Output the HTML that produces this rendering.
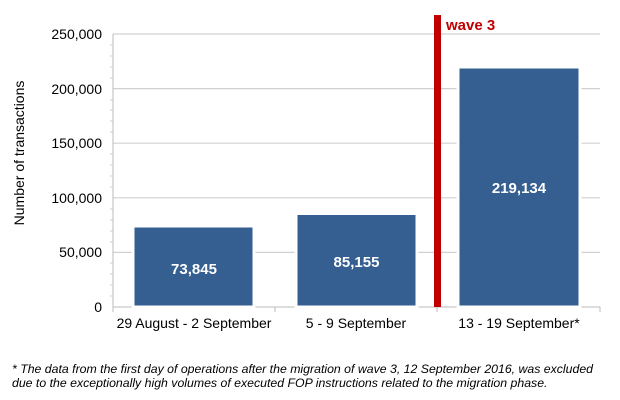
<!DOCTYPE html>
<html><head><meta charset="utf-8"><style>
body{margin:0;background:#fff;}
svg{display:block;font-family:"Liberation Sans",Arial,sans-serif;}
</style></head><body>
<svg width="620" height="400" viewBox="0 0 620 400">
<g stroke="#d0d0d0" stroke-width="1.2">
<line x1="113" y1="34" x2="600" y2="34"/>
<line x1="113" y1="88.6" x2="600" y2="88.6"/>
<line x1="113" y1="143.2" x2="600" y2="143.2"/>
<line x1="113" y1="197.8" x2="600" y2="197.8"/>
<line x1="113" y1="252.4" x2="600" y2="252.4"/>
</g>
<g stroke="#bbb" stroke-width="1">
<line x1="113" y1="34" x2="113" y2="307"/>
<line x1="113" y1="307" x2="600" y2="307"/>
<line x1="113" y1="307" x2="113" y2="312"/>
<line x1="275" y1="307" x2="275" y2="312"/>
<line x1="437" y1="307" x2="437" y2="312"/>
<line x1="600" y1="307" x2="600" y2="312"/>
</g>
<g stroke="#ccc" stroke-width="1">
<line x1="110" y1="45" x2="113" y2="45"/><line x1="110" y1="56" x2="113" y2="56"/><line x1="110" y1="67" x2="113" y2="67"/><line x1="110" y1="78" x2="113" y2="78"/>
<line x1="110" y1="100" x2="113" y2="100"/><line x1="110" y1="110" x2="113" y2="110"/><line x1="110" y1="121" x2="113" y2="121"/><line x1="110" y1="132" x2="113" y2="132"/>
<line x1="110" y1="154" x2="113" y2="154"/><line x1="110" y1="165" x2="113" y2="165"/><line x1="110" y1="176" x2="113" y2="176"/><line x1="110" y1="187" x2="113" y2="187"/>
<line x1="110" y1="209" x2="113" y2="209"/><line x1="110" y1="220" x2="113" y2="220"/><line x1="110" y1="231" x2="113" y2="231"/><line x1="110" y1="242" x2="113" y2="242"/>
<line x1="110" y1="263" x2="113" y2="263"/><line x1="110" y1="274" x2="113" y2="274"/><line x1="110" y1="285" x2="113" y2="285"/><line x1="110" y1="296" x2="113" y2="296"/>
</g>
<g fill="#365f91" stroke="#fff" stroke-width="3">
<rect x="133" y="226" width="121" height="81"/>
<rect x="296" y="213.5" width="121" height="93.5"/>
<rect x="458" y="67" width="122" height="240"/>
</g>
<rect x="434" y="15" width="7" height="292" fill="#c00000"/>
<text x="446" y="30" font-size="15" font-weight="bold" fill="#c00000">wave 3</text>
<g font-size="15" font-weight="bold" fill="#fff" text-anchor="middle">
<text x="194" y="274">73,845</text>
<text x="356.5" y="267">85,155</text>
<text x="519" y="193">219,134</text>
</g>
<g font-size="14" fill="#000" text-anchor="end">
<text x="102" y="39">250,000</text>
<text x="102" y="94">200,000</text>
<text x="102" y="148">150,000</text>
<text x="102" y="203">100,000</text>
<text x="102" y="257">50,000</text>
<text x="102" y="312">0</text>
</g>
<text transform="translate(24,153) rotate(-90)" font-size="14" text-anchor="middle">Number of transactions</text>
<g font-size="14" text-anchor="middle">
<text x="194" y="328">29 August - 2 September</text>
<text x="356" y="328">5 - 9 September</text>
<text x="519" y="328">13 - 19 September*</text>
</g>
<g font-size="12.3" font-style="italic">
<text x="12" y="373">* The data from the first day of operations after the migration of wave 3, 12 September 2016, was excluded</text>
<text x="12" y="387">due to the exceptionally high volumes of executed FOP instructions related to the migration phase.</text>
</g>
</svg>
</body></html>
